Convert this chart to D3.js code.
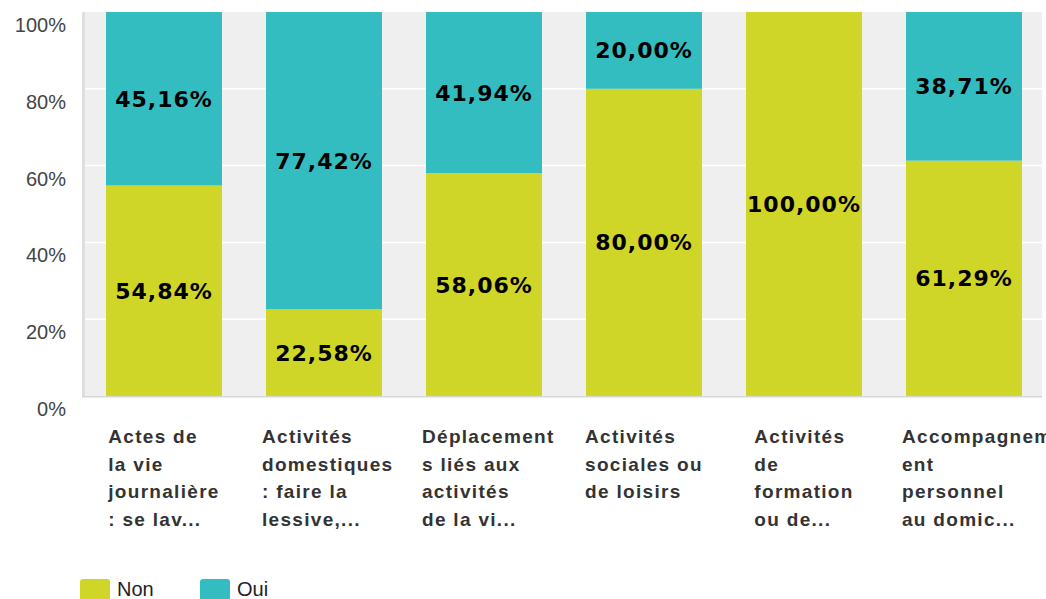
<!DOCTYPE html>
<html>
<head>
<meta charset="utf-8">
<script src="https://cdn.jsdelivr.net/npm/d3@7"></script>
<style>
body { margin: 0; background: #fff; }
svg { display: block; }
</style>
</head>
<body>
<script>
var categories = [
    ['Actes de', 'la vie', 'journalière', ': se lav...'],
    ['Activités', 'domestiques', ': faire la', 'lessive,...'],
    ['Déplacement', 's liés aux', 'activités', 'de la vi...'],
    ['Activités', 'sociales ou', 'de loisirs'],
    ['Activités', 'de', 'formation', 'ou de...'],
    ['Accompagnem', 'ent', 'personnel', 'au domic...']
];
var non = [54.84, 22.58, 58.06, 80.00, 100.00, 61.29];
var oui = [45.16, 77.42, 41.94, 20.00, 0, 38.71];
var yTicks = [0, 20, 40, 60, 80, 100];
var seriesNames = ['Non', 'Oui'];
var colors = ['#d0d628', '#34bdc0'];

var W = 1046, H = 599;
var svg = d3.select('body').append('svg').attr('width', W).attr('height', H);

var x = d3.scaleBand().domain(d3.range(categories.length))
    .range([84, 1044]).paddingInner(0.275).paddingOuter(0.1375);
var y = d3.scaleLinear().domain([0, 100]).range([396, 12]);

// plot background
svg.append('rect').attr('x', 82).attr('y', 12).attr('width', 960).attr('height', 384).attr('fill', '#efefef');
svg.append('rect').attr('x', 82).attr('y', 12).attr('width', 3).attr('height', 385).attr('fill', '#dedede');
svg.append('rect').attr('x', 82).attr('y', 396).attr('width', 960).attr('height', 1.5).attr('fill', '#d6d6d6');

// gridlines
svg.selectAll('.grid').data(yTicks.filter(function(d){ return d > 0 && d < 100; })).enter()
    .append('line')
    .attr('x1', 85).attr('x2', 1042)
    .attr('y1', function(d){ return y(d); }).attr('y2', function(d){ return y(d); })
    .attr('stroke', '#fff').attr('stroke-width', 1.5);

// y tick labels
svg.selectAll('.ytick').data(yTicks).enter().append('text')
    .attr('x', 66).attr('y', function(d){ return y(d) + 20; })
    .attr('text-anchor', 'end')
    .attr('font-family', 'Liberation Sans, Arial, sans-serif')
    .attr('font-size', 20).attr('fill', '#444')
    .text(function(d){ return d + '%'; });

// stacked bars
var rows = categories.map(function(c, i){ return {i: i, Non: non[i], Oui: oui[i]}; });
var stack = d3.stack().keys(seriesNames)(rows);

var layer = svg.selectAll('.layer').data(stack).enter().append('g')
    .attr('fill', function(d, k){ return colors[k]; });

layer.selectAll('rect').data(function(d){ return d; }).enter().append('rect')
    .attr('x', function(d){ return x(d.data.i); })
    .attr('width', x.bandwidth())
    .attr('y', function(d){ return y(d[1]); })
    .attr('height', function(d){ return y(d[0]) - y(d[1]); });

var fmt = function(v){ return v.toFixed(2).replace('.', ',') + '%'; };

layer.selectAll('text').data(function(d){ return d.filter(function(s){ return s[1] - s[0] > 0; }); }).enter()
    .append('text')
    .attr('x', function(d){ return x(d.data.i) + x.bandwidth() / 2; })
    .attr('y', function(d){ return (y(d[0]) + y(d[1])) / 2 + 8; })
    .attr('text-anchor', 'middle')
    .attr('font-family', 'DejaVu Sans, sans-serif')
    .attr('font-weight', 'bold').attr('font-size', 22)
    .attr('letter-spacing', 1)
    .attr('fill', '#000')
    .text(function(d){ return fmt(d[1] - d[0]); });

// x labels: left aligned block centred under each bar (block width capped)
var xl = svg.selectAll('.xlab').data(categories).enter().append('text')
    .attr('font-family', 'Liberation Sans, Arial, sans-serif')
    .attr('font-weight', 'bold').attr('font-size', 19)
    .attr('letter-spacing', 1.3)
    .attr('fill', '#333');
xl.each(function(lines, i){
    var t = d3.select(this);
    lines.forEach(function(l, j){
        t.append('tspan').attr('y', 443 + j * 27.5).text(l);
    });
    var wmax = 0;
    t.selectAll('tspan').each(function(){ wmax = Math.max(wmax, this.getComputedTextLength()); });
    var x0 = x(i) + x.bandwidth() / 2 - Math.min(wmax, 124) / 2;
    t.selectAll('tspan').attr('x', x0);
});

// legend
var lg = svg.selectAll('.lg').data(seriesNames).enter().append('g')
    .attr('transform', function(d, k){ return 'translate(' + (80 + k * 120) + ',579)'; });
lg.append('rect').attr('width', 30).attr('height', 24).attr('rx', 3)
    .attr('fill', function(d, k){ return colors[k]; });
lg.append('text').attr('x', 37).attr('y', 17)
    .attr('font-family', 'Liberation Sans, Arial, sans-serif')
    .attr('font-size', 20).attr('fill', '#222')
    .text(function(d){ return d; });
</script>
</body>
</html>
